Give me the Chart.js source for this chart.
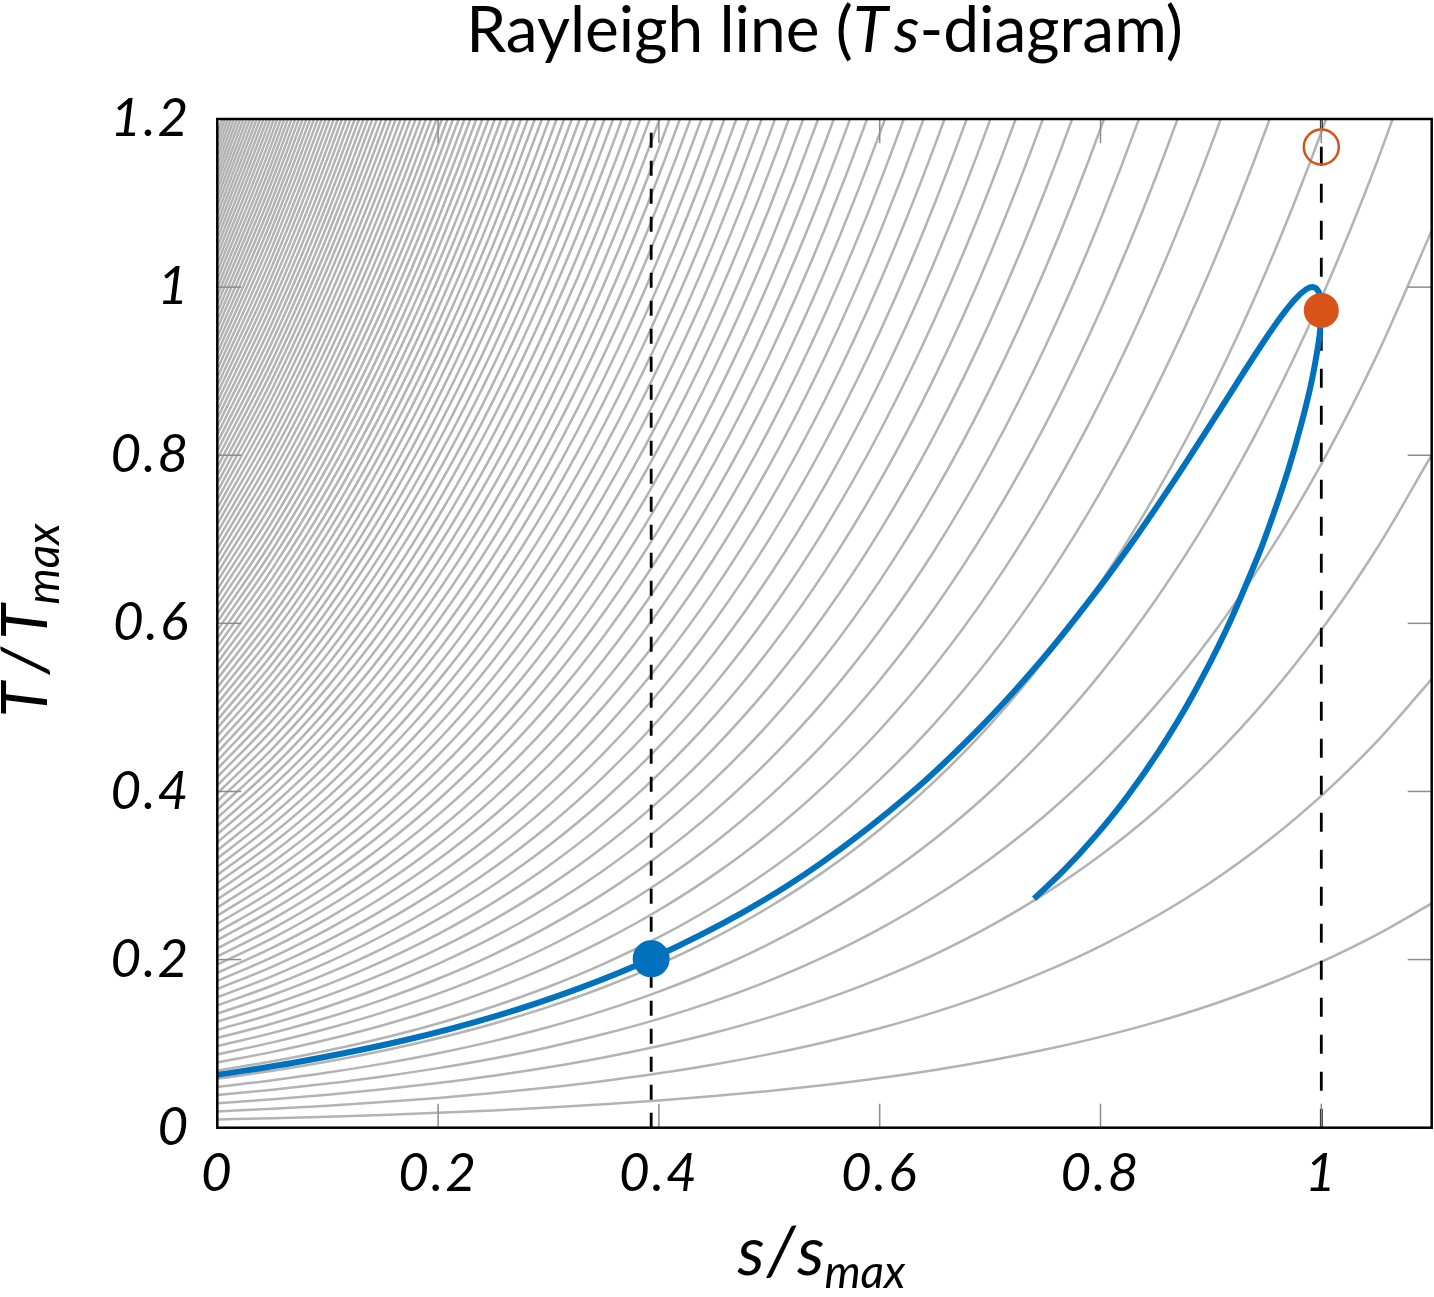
<!DOCTYPE html>
<html><head><meta charset="utf-8">
<script src="https://cdn.jsdelivr.net/npm/chart.js@4.4.1/dist/chart.umd.min.js"></script>
<style>html,body{margin:0;padding:0;background:#fff;overflow:hidden}#wrap{width:1434px;height:1297px;position:relative}</style>
</head><body><div id="wrap"><canvas id="c" width="1434" height="1297"></canvas></div>
<script>
// ---------- data ----------
const xTickValues = [0, 0.2, 0.4, 0.6, 0.8, 1];
const xTickLabels = ['0', '0.2', '0.4', '0.6', '0.8', '1'];
const yTickValues = [0, 0.2, 0.4, 0.6, 0.8, 1, 1.2];
const yTickLabels = ['0', '0.2', '0.4', '0.6', '0.8', '1', '1.2'];
const xRange = [0, 1.1];
const yRange = [0, 1.2];

// entropy samples and the lowest isobar read at those samples
const sGrid = [0, 0.05, 0.1, 0.15, 0.2, 0.25, 0.3, 0.35, 0.4, 0.45, 0.5, 0.55,
  0.6, 0.65, 0.7, 0.75, 0.8, 0.85, 0.9, 0.95, 1.0, 1.05, 1.1];
const isobarBase = [0.009700, 0.011277, 0.013111, 0.015243, 0.017720, 0.020601,
  0.023951, 0.027846, 0.032373, 0.037636, 0.043756, 0.050870, 0.059141, 0.068757,
  0.079936, 0.092932, 0.108042, 0.125609, 0.146032, 0.169775, 0.197379, 0.229468, 0.266779];
// pressure level of each isobar relative to the lowest one
const isobarLevels = [1,2,3,4,5,6,7,8,9,10,11,12,13,14,15,16,17,18,19,20,21,22,23,24,25,
  26,27,28,29,30,31,32,33,34,35,36,37,38,39,40,41,42,43,44,45,46,47,48,49,50,51,52,53,54,
  55,56,57,58,59,60,61,62,63,64,65,66,67,68,69,70,71,72,73,74,75,76,77,78,79,80,81,82,83,
  84,85,86,87,88,89,90,91,92,93,94,95,96,97,98,99,100,101,102,103,104,105,106,107,108,109,
  110,111,112,113,114,115,116,117,118,119,120,121,122];

// Rayleigh line (s/smax, T/Tmax): subsonic branch up to the sonic point, then supersonic branch
const rayleighS = [0, 0.0705, 0.1697, 0.2545, 0.3282, 0.3930, 0.4769, 0.5482, 0.6278,
  0.6937, 0.7487, 0.7947, 0.8334, 0.8660, 0.8994, 0.9261, 0.9473, 0.9638, 0.9765,
  0.9859, 0.9920, 0.9969, 0.9993, 1.0, 0.9993, 0.9975, 0.9910, 0.9815, 0.9701,
  0.9571, 0.9433, 0.9138, 0.8834, 0.8531, 0.8234, 0.7945, 0.7667, 0.7398];
const rayleighT = [0.0629, 0.0775, 0.1040, 0.1336, 0.1660, 0.2009, 0.2568, 0.3159, 0.3975,
  0.4796, 0.5595, 0.6353, 0.7052, 0.7682, 0.8360, 0.8912, 0.9341, 0.9653, 0.9859,
  0.9970, 1.0, 0.9961, 0.9865, 0.9722, 0.9543, 0.9336, 0.8865, 0.8353, 0.7830,
  0.7316, 0.6822, 0.5920, 0.5142, 0.4483, 0.3926, 0.3457, 0.3061, 0.2725];

const markerLineS = [0.393, 1.0];
const blueStateS = [0.393];   const blueStateT = [0.2009];
const orangeStateS = [1.0];   const orangeStateT = [0.9722];
const hollowStateS = [1.0];   const hollowStateT = [1.1667];

// ---------- styles ----------
const GRAY = '#b3b3b3', BLUE = '#0072bd', ORANGE = '#d95319';
const zip = (xs, ys) => xs.map((x, i) => ({x: x, y: ys[i]}));

const datasets = [];
datasets.push({data: zip(blueStateS, blueStateT), showLine: false, pointRadius: 17.5,
  pointBorderWidth: 2, pointBackgroundColor: BLUE, pointBorderColor: BLUE, order: 1});
datasets.push({data: zip(orangeStateS, orangeStateT), showLine: false, pointRadius: 16.5,
  pointBorderWidth: 2, pointBackgroundColor: ORANGE, pointBorderColor: ORANGE, order: 1});
datasets.push({data: zip(hollowStateS, hollowStateT), showLine: false, pointRadius: 17.5,
  pointBorderWidth: 2.5, pointBackgroundColor: 'rgba(0,0,0,0)', pointBorderColor: ORANGE, order: 1});
datasets.push({data: zip(rayleighS, rayleighT), showLine: true, borderColor: BLUE,
  borderWidth: 6, pointRadius: 0, tension: 0.3, fill: false, order: 3});
const dashes = [[15, 13], [19, 18]];
markerLineS.forEach((s, k) => {
  datasets.push({data: [{x: s, y: yRange[0]}, {x: s, y: yRange[1]}], showLine: true,
    borderColor: '#000', borderWidth: 2.8, borderDash: dashes[k], pointRadius: 0, order: 4});
});
isobarLevels.forEach(m => {
  datasets.push({data: sGrid.map((s, i) => ({x: s, y: isobarBase[i] * m})), showLine: true,
    borderColor: GRAY, borderWidth: 2.5, pointRadius: 0, cubicInterpolationMode: 'monotone', order: 10});
});

// ---------- text drawing helpers ----------
function drawRuns(ctx, runs, cx, baseY) {
  let total = 0;
  runs.forEach(r => { ctx.font = r.font; r.w = ctx.measureText(r.text).width; total += r.w + (r.gap || 0); });
  let x = cx - total / 2;
  ctx.textAlign = 'left'; ctx.textBaseline = 'alphabetic'; ctx.fillStyle = '#000';
  runs.forEach(r => { x += (r.gap || 0); ctx.font = r.font; ctx.fillText(r.text, x, baseY + (r.dy || 0)); x += r.w; });
}

const framePlugin = {
  id: 'frame',
  beforeDraw(chart) {
    try { chart.ctx.letterSpacing = '2px'; } catch (e) {}
  },
  afterDatasetsDraw(chart) {
    const {ctx, chartArea: a, scales: {x, y}} = chart;
    try { ctx.letterSpacing = '0px'; } catch (e) {}
    ctx.save();
    ctx.strokeStyle = '#8c8c8c'; ctx.lineWidth = 1.5;
    const L = 24;
    const seg = (x1, y1, x2, y2) => { ctx.beginPath(); ctx.moveTo(x1, y1); ctx.lineTo(x2, y2); ctx.stroke(); };
    xTickValues.forEach(v => { const p = x.getPixelForValue(v); seg(p, a.bottom, p, a.bottom - L); seg(p, a.top, p, a.top + L); });
    yTickValues.forEach(v => { const p = y.getPixelForValue(v); seg(a.left, p, a.left + L, p); seg(a.right, p, a.right - L, p); });
    ctx.strokeStyle = '#000'; ctx.lineWidth = 2.5;
    ctx.strokeRect(a.left, a.top, a.right - a.left, a.bottom - a.top);
    ctx.restore();
  },
  afterDraw(chart) {
    const {ctx, chartArea: a} = chart;
    try { ctx.letterSpacing = '0px'; } catch (e) {}
    const cx = (a.left + a.right) / 2, cy = (a.top + a.bottom) / 2;
    ctx.save();
    drawRuns(ctx, [
      {text: 'Rayleigh line (', font: '64px Lato'},
      {text: 'T', font: 'italic 64px Lato'},
      {text: 's', font: 'italic 64px Lato', gap: 6},
      {text: '-diagram)', font: '64px Lato'}
    ], cx, 52);
    drawRuns(ctx, [
      {text: 's', font: 'italic 68px Lato'},
      {text: '/', font: 'italic 68px Lato', gap: 2},
      {text: 's', font: 'italic 68px Lato', gap: 2},
      {text: 'max', font: 'italic 46px Lato', dy: 13}
    ], cx - 3, 1275);
    ctx.translate(47, cy - 3);
    ctx.rotate(-Math.PI / 2);
    drawRuns(ctx, [
      {text: 'T', font: 'italic 64px Lato'},
      {text: '/', font: 'italic 64px Lato', gap: 8},
      {text: 'T', font: 'italic 64px Lato', gap: 8},
      {text: 'max', font: 'italic 46px Lato', dy: 12}
    ], 0, 0);
    ctx.restore();
  }
};

const tickFont = {family: 'Lato', size: 53, style: 'italic'};

new Chart(document.getElementById('c'), {
  type: 'scatter',
  data: {datasets: datasets},
  options: {
    responsive: false, animation: false, events: [],
    layout: {autoPadding: false, padding: {top: 119, right: 2.3, left: 0, bottom: 0}},
    plugins: {legend: {display: false}, tooltip: {enabled: false}, title: {display: false}},
    scales: {
      x: {
        type: 'linear', min: xRange[0], max: xRange[1],
        grid: {display: false, drawTicks: false, tickLength: 0}, border: {display: false},
        afterBuildTicks: sc => { sc.ticks = xTickValues.map(v => ({value: v})); },
        afterFit: sc => { sc.height = 169.3; sc.paddingLeft = 0; sc.paddingRight = 0; },
        ticks: {font: tickFont, color: '#000', padding: 14, maxRotation: 0, autoSkip: false,
          callback: (v, i) => xTickLabels[i]}
      },
      y: {
        type: 'linear', min: yRange[0], max: yRange[1],
        grid: {display: false, drawTicks: false, tickLength: 0}, border: {display: false},
        afterBuildTicks: sc => { sc.ticks = yTickValues.map(v => ({value: v})); },
        afterFit: sc => { sc.width = 217.3; sc.paddingTop = 0; sc.paddingBottom = 0; },
        ticks: {font: tickFont, color: '#000', padding: 27, autoSkip: false,
          callback: (v, i) => yTickLabels[i]}
      }
    }
  },
  plugins: [framePlugin]
});
</script>
</body></html>
